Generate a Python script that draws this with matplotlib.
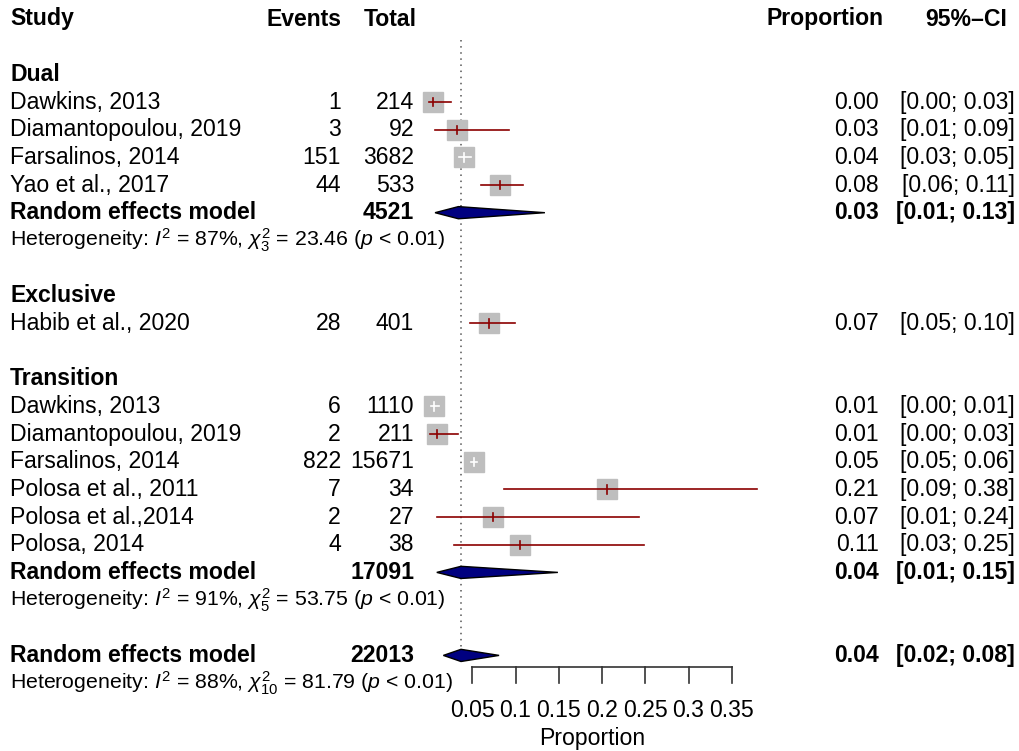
import numpy as np
import matplotlib
matplotlib.use("Agg")
import matplotlib.pyplot as plt
from matplotlib.patches import Polygon

plt.rcParams['font.family'] = ['Liberation Sans', 'DejaVu Sans']
plt.rcParams['mathtext.fontset'] = 'custom'
plt.rcParams['mathtext.rm'] = 'Liberation Sans'
plt.rcParams['mathtext.it'] = 'Liberation Sans:italic'
plt.rcParams['mathtext.bf'] = 'Liberation Sans:bold'

# ---- data ----
groups = ["Dual", "Exclusive", "Transition"]

studies = [
    ["Dawkins, 2013", "Diamantopoulou, 2019", "Farsalinos, 2014", "Yao et al., 2017"],
    ["Habib et al., 2020"],
    ["Dawkins, 2013", "Diamantopoulou, 2019", "Farsalinos, 2014",
     "Polosa et al., 2011", "Polosa et al.,2014", "Polosa, 2014"],
]
events = [[1, 3, 151, 44], [28], [6, 2, 822, 7, 2, 4]]
totals = [[214, 92, 3682, 533], [401], [1110, 211, 15671, 34, 27, 38]]
est = [[0.0047, 0.0326, 0.041, 0.0826], [0.0698],
       [0.0054, 0.0095, 0.0525, 0.206, 0.074, 0.1053]]
lower = [[0.0001, 0.0068, 0.0348, 0.0606], [0.047],
         [0.002, 0.0012, 0.049, 0.087, 0.009, 0.029]]
upper = [[0.026, 0.0923, 0.048, 0.109], [0.0995],
         [0.0117, 0.0338, 0.056, 0.379, 0.243, 0.248]]

# random effects per subgroup (None = single study, no pooled row)
re_est = [0.034, None, 0.037]
re_low = [0.007, None, 0.009]
re_up = [0.134, None, 0.149]
het_i2 = [87, None, 91]
het_q = [23.46, None, 53.75]
het_df = [3, None, 5]

overall_est, overall_low, overall_up = 0.037, 0.0166, 0.081
overall_i2, overall_q, overall_df = 88, 81.79, 10

xticks = [0.05, 0.1, 0.15, 0.2, 0.25, 0.3, 0.35]
xticklabels = ["0.05", "0.1", "0.15", "0.2", "0.25", "0.3", "0.35"]

# ---- layout ----
W, H = 1019, 751
x0_px, px_per_unit = 429, 865.0        # pixel of proportion 0, pixels per 1.0
row0_px, row_h = 19, 27.67             # pixel of header row, row height
FS = 16.6
SQ = 20.5 * 0.72                        # square marker size in points
CI_COL = '#8B0000'
SQ_COL = '#BEBEBE'
DIA_COL = '#000080'


def px(p):
    return (p - x0_px) / px_per_unit


fig = plt.figure(figsize=(W / 100, H / 100), dpi=100)
ax = fig.add_axes([0, 0, 1, 1])
ax.set_xlim(px(0), px(W))
ax.set_ylim((H - row0_px) / row_h, -row0_px / row_h)
ax.axis('off')

X_STUDY, X_EV, X_TOT, X_PROP, X_CI = px(10), px(341), px(414), px(879), px(1015)


def txt(x, y, s, ha='left', bold=False, size=FS):
    ax.text(x, y, s, ha=ha, va='center', fontsize=size,
            fontweight='bold' if bold else 'normal')


def fmt_ci(lo, hi):
    return "[{:.2f}; {:.2f}]".format(lo, hi)


def diamond(y, lo, mid, hi, h=0.22):
    ax.add_patch(Polygon([[lo, y], [mid, y - h], [hi, y], [mid, y + h]],
                         closed=True, facecolor=DIA_COL, edgecolor='black', lw=1, zorder=4))


def het_text(y, i2, q, df):
    s = r"Heterogeneity: $I^2$ = {}%, $\chi^2_{{{}}}$ = {:.2f} ($p$ < 0.01)".format(i2, df, q)
    txt(X_STUDY, y, s, size=15.3)


# header
txt(X_STUDY, 0, "Study", bold=True)
txt(px(342), 0, "Events", ha='right', bold=True)
txt(px(417), 0, "Total", ha='right', bold=True)
txt(px(883), 0, "Proportion", ha='right', bold=True)
txt(px(1007), 0, "95%\u2013CI", ha='right', bold=True)

row = 2
for g in range(len(groups)):
    txt(X_STUDY, row, groups[g], bold=True)
    row += 1
    for i in range(len(studies[g])):
        e, lo, hi = est[g][i], lower[g][i], upper[g][i]
        txt(X_STUDY, row, studies[g][i])
        txt(X_EV, row, str(events[g][i]), ha='right')
        txt(X_TOT, row, str(totals[g][i]), ha='right')
        txt(X_PROP, row, "{:.2f}".format(e), ha='right')
        txt(X_CI, row, fmt_ci(lo, hi), ha='right')
        ax.plot([e], [row], marker='s', ms=SQ, color=SQ_COL, mec=SQ_COL, zorder=2)
        # CI inside the square is drawn white
        half = SQ / 72 * 100 / 2 / px_per_unit
        inside = (e - lo) < half and (hi - e) < half
        col = 'white' if inside else CI_COL
        ax.plot([lo, hi], [row, row], color=col, lw=1.2, zorder=3)
        ax.plot([e, e], [row - 0.15, row + 0.15], color=col, lw=1.2, zorder=3)
        row += 1
    if re_est[g] is not None:
        txt(X_STUDY, row, "Random effects model", bold=True)
        txt(X_TOT, row, str(sum(totals[g])), ha='right', bold=True)
        txt(X_PROP, row, "{:.2f}".format(re_est[g]), ha='right', bold=True)
        txt(X_CI, row, fmt_ci(re_low[g], re_up[g]), ha='right', bold=True)
        diamond(row, re_low[g], re_est[g], re_up[g])
        row += 1
        het_text(row, het_i2[g], het_q[g], het_df[g])
        row += 1
    row += 1

# overall
txt(X_STUDY, row, "Random effects model", bold=True)
txt(X_TOT, row, str(sum(sum(t) for t in totals)), ha='right', bold=True)
txt(X_PROP, row, "{:.2f}".format(overall_est), ha='right', bold=True)
txt(X_CI, row, fmt_ci(overall_low, overall_up), ha='right', bold=True)
diamond(row, overall_low, overall_est, overall_up)
het_text(row + 1, overall_i2, overall_q, overall_df)

# dotted reference line at pooled estimate
ax.plot([overall_est, overall_est], [0.75, row - 0.2], color='#555555',
        ls=(0, (1, 3)), lw=1.1, zorder=1)

# x axis
y_ax = row + 0.43
ax.plot([xticks[0], xticks[-1]], [y_ax, y_ax], color='#333333', lw=1.2)
for t, lab in zip(xticks, xticklabels):
    ax.plot([t, t], [y_ax, y_ax + 0.55], color='#333333', lw=1.2)
    ax.text(t, row + 2, lab, ha='center', va='center', fontsize=FS)
ax.text(px(592), row + 3, "Proportion", ha='center', va='center', fontsize=FS)

fig.savefig("out.png", dpi=100)
